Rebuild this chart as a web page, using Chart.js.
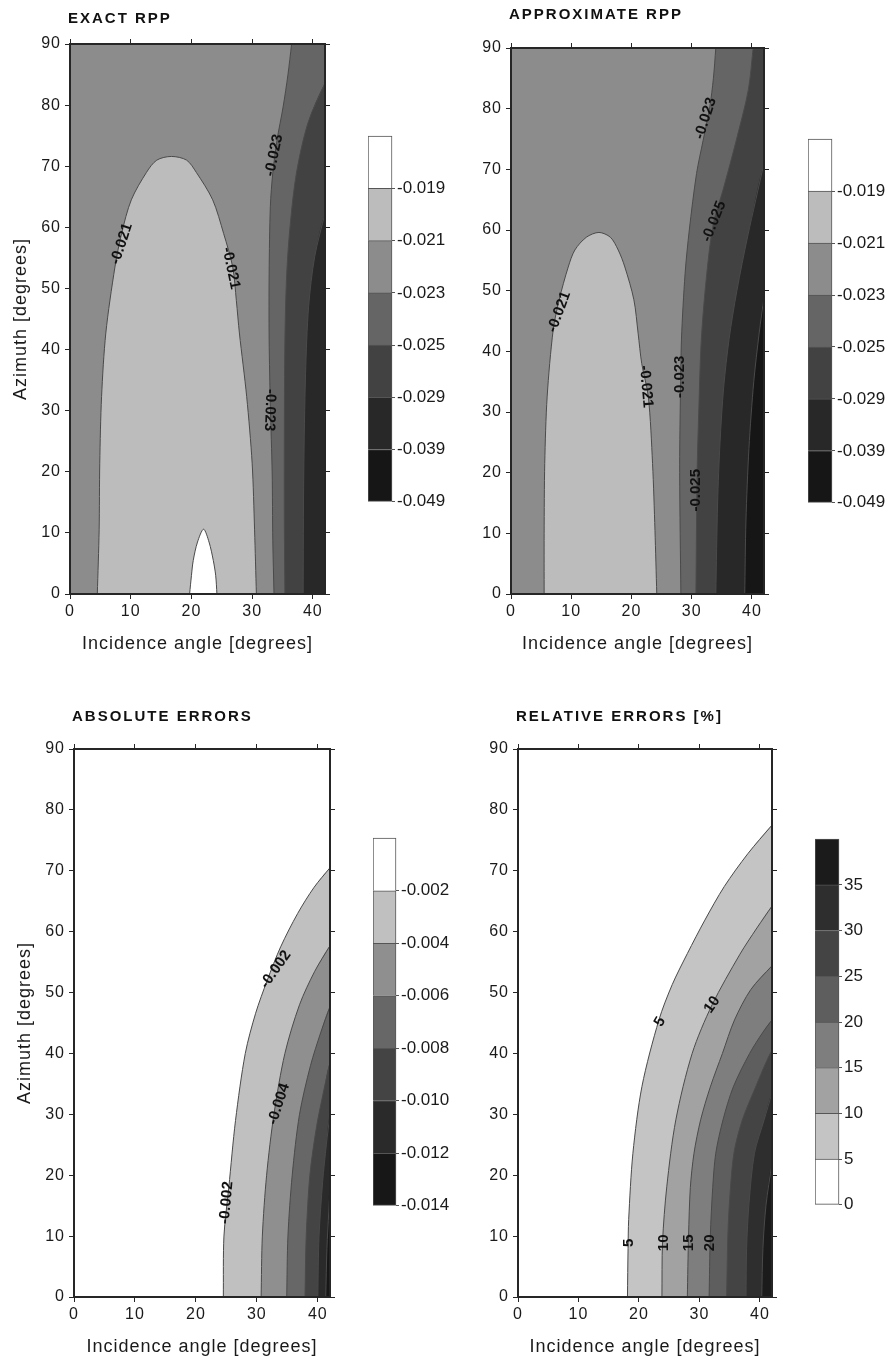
<!DOCTYPE html>
<html>
<head>
<meta charset="utf-8">
<title>Exact and approximate Rpp</title>
<script src="https://cdn.jsdelivr.net/npm/chart.js@4.4.1/dist/chart.umd.min.js"></script>
<style>
  html, body { margin: 0; padding: 0; background: #fff; overflow: hidden; }
  body { width: 889px; height: 1360px; position: relative; }
  canvas { position: absolute; display: block; }
</style>
</head>
<body>
<script>
const FONT = "'Liberation Sans', Arial, Helvetica, sans-serif";
const INK = '#1a1a1a';
const FRAME = '#262626';
const CONTOUR = '#4a4a4a';

// contour lines, [incidence angle, azimuth] in degrees
const exact019 = [[19.7, 0], [20.0, 3], [20.3, 5.5], [21.0, 8.5], [22.0, 10.6], [22.9, 8.5], [23.6, 5.5], [24.0, 3], [24.2, 0]];
const exact021 = [[4.5, 0], [4.8, 10.5], [4.9, 21.4], [5.2, 32.3], [5.9, 42.7], [7.4, 53.5], [8.5, 59], [10.1, 64.5], [12.6, 69], [14.3, 71], [16.7, 71.6], [19.2, 71], [20.8, 69], [23.5, 64.5], [25.3, 59], [26.8, 53.5], [27.4, 48], [27.9, 42.7], [29.1, 32.3], [30.0, 21.4], [30.4, 10.5], [30.7, 0]];
const exact023 = [[33.6, 0], [33.4, 8.8], [33.3, 19.8], [33.0, 30.7], [32.8, 41.6], [32.8, 52.5], [33.0, 63.4], [33.4, 68.9], [34.1, 74.3], [35.1, 79.7], [35.9, 85], [36.5, 90]];
const exact025 = [[35.4, 0], [35.3, 12], [35.3, 25.3], [35.4, 41.6], [35.7, 52.5], [36.3, 60.7], [37.3, 68.9], [39.2, 77.1], [42, 83.6]];
const exact029 = [[38.4, 0], [38.5, 19.8], [38.8, 36.1], [39.3, 47], [40.3, 55.2], [42, 62.3]];

const approx021 = [[5.5, 0], [5.5, 10], [5.6, 21.5], [6.0, 32.5], [7.0, 43.5], [8.0, 48.5], [9.5, 53.9], [10.6, 56.7], [12.5, 58.8], [14.6, 59.6], [16.5, 58.8], [17.8, 56.7], [18.9, 53.9], [20.4, 48.5], [21.1, 43], [21.7, 38], [22.8, 32.5], [23.5, 21.5], [23.9, 10.5], [24.2, 0]];
const approx023 = [[28.2, 0], [28.0, 20], [28.1, 31], [28.3, 42], [28.9, 52.8], [29.6, 60], [30.8, 69.3], [31.9, 74.8], [33.0, 80.3], [33.6, 85], [34.0, 90]];
const approx025 = [[30.7, 0], [30.9, 20], [31.2, 31], [31.6, 42], [32.5, 52.8], [33.6, 61.1], [35.2, 66.6], [37.4, 74.8], [39.4, 83.1], [40.2, 90]];
const approx029 = [[34.0, 0], [34.3, 15], [34.7, 25], [35.3, 34], [36.2, 42], [37.5, 50], [39.3, 59], [42, 71]];
const approx039 = [[38.8, 0], [39.0, 12], [39.5, 24], [40.3, 35], [41.2, 43], [42, 49]];

const abs002 = [[24.5, 0], [24.6, 10], [25.4, 18], [26.5, 29], [28.1, 40], [29.8, 46.6], [31.7, 52], [33.9, 57.5], [36.7, 63], [39.4, 67.3], [42, 70.5]];
const abs004 = [[30.7, 0], [30.9, 10], [31.6, 20], [32.8, 30], [34.6, 40], [37.0, 48], [39.5, 53.5], [42, 57.7]];
const abs006 = [[34.9, 0], [35.1, 10], [35.8, 20], [37.0, 30], [38.8, 38], [40.5, 43.5], [42, 47.7]];
const abs008 = [[37.9, 0], [38.1, 10], [38.7, 20], [39.8, 28], [41.0, 34], [42, 38.5]];
const abs010 = [[40.0, 0], [40.2, 10], [40.8, 19], [41.4, 25], [42, 30]];
const abs012 = [[41.3, 0], [41.5, 8], [41.8, 14], [42, 18]];

const rel05 = [[18.1, 0], [18.2, 8], [18.3, 12.7], [19.0, 23.6], [20.5, 34.6], [23.3, 45.5], [25.5, 51.3], [28.0, 56.4], [30.9, 61.9], [34.1, 67.4], [38.0, 72.8], [42, 77.5]];
const rel10 = [[23.8, 0], [23.9, 9], [24.6, 18.1], [26.1, 29.1], [28.8, 40], [32.1, 48], [36.7, 56.3], [39.5, 60.6], [42, 64.2]];
const rel15 = [[28.0, 0], [28.2, 10], [28.5, 18], [29.1, 23.6], [30.2, 29.1], [31.8, 34.5], [33.8, 40], [35.8, 45.5], [38.5, 50.5], [42, 54.4]];
const rel20 = [[31.6, 0], [31.8, 10], [32.2, 18], [32.7, 23.6], [33.9, 29.1], [35.6, 34.5], [38.3, 40], [40.5, 43.5], [42, 45.5]];
const rel25 = [[34.5, 0], [34.7, 10], [35.0, 16], [35.7, 23.6], [37.1, 29.1], [39.3, 34.5], [41, 38.5], [42, 40.5]];
const rel30 = [[37.7, 0], [37.8, 8], [38.2, 15.4], [39.1, 23.6], [40.7, 29.1], [42, 33.5]];
const rel35 = [[40.3, 0], [40.5, 8], [41.0, 15], [42, 22]];

// contour labels: text, incidence, azimuth, rotation in degrees
const exactTags = [['-0.021', 8.5, 57.3, -72], ['-0.021', 26.5, 53.3, 78], ['-0.023', 33.6, 71.8, -78], ['-0.023', 32.9, 30.1, 92]];
const approxTags = [['-0.021', 8.0, 46.5, -70], ['-0.021', 22.4, 34.2, 85], ['-0.023', 32.3, 78.4, -72], ['-0.025', 33.7, 61.4, -68], ['-0.023', 28.1, 35.8, -90], ['-0.025', 30.7, 17.1, -90]];
const absTags = [['-0.002', 33.1, 53.8, -55], ['-0.002', 25.0, 15.5, -85], ['-0.004', 33.6, 31.7, -72]];
const relTags = [['5', 23.5, 45.2, -60], ['10', 32.1, 48.0, -55], ['5', 18.3, 8.9, -90], ['10', 24.2, 8.9, -90], ['15', 28.3, 8.9, -90], ['20', 31.8, 8.9, -90]];

// colour bar levels, bottom to top
const rppLevels = [-0.049, -0.039, -0.029, -0.025, -0.023, -0.021, -0.019];
const absLevels = [-0.014, -0.012, -0.010, -0.008, -0.006, -0.004, -0.002];
const relLevels = [0, 5, 10, 15, 20, 25, 30, 35];

// grey shades per band, bottom to top of the colour bar
const rppShades = ['#161616', '#282828', '#424242', '#656565', '#8c8c8c', '#bcbcbc', '#ffffff'];
const absShades = ['#171717', '#2a2a2a', '#444444', '#676767', '#8f8f8f', '#c0c0c0', '#ffffff'];
const relShades = ['#ffffff', '#c4c4c4', '#a2a2a2', '#7e7e7e', '#5e5e5e', '#444444', '#2e2e2e', '#1b1b1b'];

const Y_AXIS_W = 60;
const X_AXIS_H = 63;
const EDGE = 6;
const PAD_TOP = 40;
const PAD_RIGHT = 20;

const panels = [
    {
        title: 'EXACT RPP', yTitle: true, titleDy: 25,
        plot: { left: 70, top: 44, right: 325, bottom: 594 },
        bar: { left: 368, top: 136, width: 24, height: 366 },
        base: 4, shades: rppShades, levels: rppLevels, digits: 3,
        steps: [[exact023, 3], [exact025, 2], [exact029, 1]],
        islands: [[exact021, 5], [exact019, 6]],
        tags: exactTags,
    },
    {
        title: 'APPROXIMATE RPP', yTitle: false, titleDy: 33.5,
        plot: { left: 511, top: 48, right: 764, bottom: 594 },
        bar: { left: 808, top: 139, width: 24, height: 364 },
        base: 4, shades: rppShades, levels: rppLevels, digits: 3,
        steps: [[approx023, 3], [approx025, 2], [approx029, 1], [approx039, 0]],
        islands: [[approx021, 5]],
        tags: approxTags,
    },
    {
        title: 'ABSOLUTE ERRORS', yTitle: true, titleDy: 32,
        plot: { left: 74, top: 749, right: 330, bottom: 1297 },
        bar: { left: 373, top: 838, width: 23, height: 368 },
        base: 6, shades: absShades, levels: absLevels, digits: 3,
        steps: [[abs002, 5], [abs004, 4], [abs006, 3], [abs008, 2], [abs010, 1], [abs012, 0]],
        islands: [],
        tags: absTags,
    },
    {
        title: 'RELATIVE ERRORS [%]', yTitle: false, titleDy: 32,
        plot: { left: 518, top: 749, right: 772, bottom: 1297 },
        bar: { left: 815, top: 839, width: 24, height: 366 },
        base: 0, shades: relShades, levels: relLevels, digits: 0,
        steps: [[rel05, 1], [rel10, 2], [rel15, 3], [rel20, 4], [rel25, 5], [rel30, 6], [rel35, 7]],
        islands: [],
        tags: relTags,
    },
];

Chart.defaults.font.family = FONT;
Chart.defaults.color = INK;

function toPoints(curve) {
    return curve.map(([x, y]) => ({ x, y }));
}

// region to the right of a contour, closed outside the plot so clipping trims it
function rightOf(curve) {
    const pts = toPoints(curve);
    const first = pts[0];
    const last = pts[pts.length - 1];
    const out = [{ x: first.x, y: -1 }, ...pts];
    if (last.y >= 90) {
        out.push({ x: last.x, y: 91 }, { x: 43, y: 91 });
    } else {
        out.push({ x: 43, y: last.y });
    }
    out.push({ x: 43, y: -1 });
    return out;
}

function island(curve) {
    const pts = toPoints(curve);
    return [{ x: pts[0].x, y: -1 }, ...pts, { x: pts[pts.length - 1].x, y: -1 }];
}

function addCanvas(left, top, width, height) {
    const canvas = document.createElement('canvas');
    canvas.width = width;
    canvas.height = height;
    canvas.style.left = `${left}px`;
    canvas.style.top = `${top}px`;
    canvas.style.width = `${width}px`;
    canvas.style.height = `${height}px`;
    document.body.appendChild(canvas);
    return canvas;
}

function decorPlugin(panel) {
    return {
        id: 'panelDecor',
        beforeDraw(chart) {
            chart.ctx.letterSpacing = '1px';
        },
        beforeDatasetsDraw(chart) {
            const { ctx, chartArea: a } = chart;
            ctx.save();
            ctx.fillStyle = panel.shades[panel.base];
            ctx.fillRect(a.left, a.top, a.width, a.height);
            ctx.restore();
        },
        afterDatasetsDraw(chart) {
            const { ctx, scales: { x, y } } = chart;
            ctx.save();
            ctx.letterSpacing = '0px';
            ctx.font = `bold 15px ${FONT}`;
            ctx.fillStyle = '#111';
            ctx.textAlign = 'center';
            ctx.textBaseline = 'middle';
            for (const [text, vx, vy, deg] of panel.tags) {
                ctx.save();
                ctx.translate(x.getPixelForValue(vx), y.getPixelForValue(vy));
                ctx.rotate(deg * Math.PI / 180);
                ctx.fillText(text, 0, 0);
                ctx.restore();
            }
            ctx.restore();
        },
        afterDraw(chart) {
            const { ctx, chartArea: a } = chart;
            ctx.save();
            ctx.letterSpacing = '2px';
            ctx.font = `bold 15px ${FONT}`;
            ctx.fillStyle = '#111';
            ctx.textAlign = 'left';
            ctx.textBaseline = 'middle';
            ctx.fillText(panel.title, a.left - 2, a.top - panel.titleDy);
            ctx.restore();
        },
    };
}

function edgeAxis(position, max) {
    const horizontal = position === 'top';
    return {
        type: 'linear',
        position,
        min: 0,
        max,
        z: 1,
        ticks: { display: false, stepSize: 10, includeBounds: false, z: 1 },
        grid: { drawOnChartArea: false, tickLength: 5, color: FRAME, lineWidth: 1, z: 1 },
        border: { color: FRAME, width: 2, z: 2 },
        afterFit(scale) {
            if (horizontal) scale.height = EDGE;
            else scale.width = EDGE;
        },
    };
}

function buildPanel(panel) {
    const { plot } = panel;
    const width = plot.right - plot.left + Y_AXIS_W + EDGE + PAD_RIGHT;
    const height = plot.bottom - plot.top + EDGE + PAD_TOP + X_AXIS_H;
    const canvas = addCanvas(plot.left - Y_AXIS_W, plot.top - EDGE - PAD_TOP, width, height);

    const layers = [];
    panel.steps.forEach(([curve, shade]) => layers.push({ data: rightOf(curve), shade }));
    panel.islands.forEach(([curve, shade]) => layers.push({ data: island(curve), shade }));
    const n = layers.length;

    const fills = layers.map((layer, i) => ({
        data: layer.data,
        fill: 'shape',
        backgroundColor: panel.shades[layer.shade],
        borderColor: 'rgba(0,0,0,0)',
        borderWidth: 0,
        order: 100 + n - i,
    }));

    const lines = [...panel.steps, ...panel.islands].map(([curve]) => ({
        data: toPoints(curve),
        fill: false,
        borderColor: CONTOUR,
        borderWidth: 1,
        order: 1,
    }));

    const tickFont = { size: 16, family: FONT };
    const titleFont = { size: 18, family: FONT };

    return new Chart(canvas, {
        type: 'line',
        data: { datasets: [...fills, ...lines] },
        options: {
            responsive: false,
            animation: false,
            devicePixelRatio: 1,
            events: [],
            layout: { padding: { top: PAD_TOP, right: PAD_RIGHT, left: 0, bottom: 0 } },
            elements: {
                point: { radius: 0, hitRadius: 0 },
                line: { tension: 0.3, capBezierPoints: false },
            },
            plugins: { legend: { display: false }, tooltip: { enabled: false } },
            scales: {
                x: {
                    type: 'linear',
                    position: 'bottom',
                    min: 0,
                    max: 42,
                    z: 1,
                    ticks: { stepSize: 10, includeBounds: false, maxRotation: 0, padding: 3, font: tickFont, color: INK, z: 1 },
                    grid: { drawOnChartArea: false, tickLength: 5, color: FRAME, lineWidth: 1, z: 1 },
                    border: { color: FRAME, width: 2, z: 2 },
                    title: { display: true, text: 'Incidence angle [degrees]', font: titleFont, color: INK, padding: { top: 0, bottom: 2 } },
                    afterFit(scale) { scale.height = X_AXIS_H; },
                },
                xTop: edgeAxis('top', 42),
                y: {
                    type: 'linear',
                    position: 'left',
                    min: 0,
                    max: 90,
                    z: 1,
                    ticks: { stepSize: 10, includeBounds: false, padding: 4, font: tickFont, color: INK, z: 1 },
                    grid: { drawOnChartArea: false, tickLength: 5, color: FRAME, lineWidth: 1, z: 1 },
                    border: { color: FRAME, width: 2, z: 2 },
                    title: { display: panel.yTitle, text: 'Azimuth [degrees]', font: titleFont, color: INK, padding: { top: 0, bottom: 0 } },
                    afterFit(scale) { scale.width = Y_AXIS_W; },
                },
                yRight: edgeAxis('right', 90),
            },
        },
        plugins: [decorPlugin(panel)],
    });
}

function buildColorbar(panel) {
    const { bar, shades, levels, digits } = panel;
    const pad = 12;
    const axisW = 70;
    const canvas = addCanvas(bar.left, bar.top - pad, bar.width + axisW, bar.height + 2 * pad);
    const bandSize = shades.map(() => 1);

    const datasets = shades.map((shade, i) => ({
        data: [bandSize[i]],
        backgroundColor: shade,
        borderColor: '#555555',
        borderWidth: { left: 1, right: 1, top: 1, bottom: i === 0 ? 1 : 0 },
        borderSkipped: false,
        barPercentage: 1,
        categoryPercentage: 1,
        clip: false,
    }));

    return new Chart(canvas, {
        type: 'bar',
        data: { labels: [''], datasets },
        options: {
            responsive: false,
            animation: false,
            devicePixelRatio: 1,
            events: [],
            layout: { padding: { top: pad, bottom: pad, left: 0, right: 0 } },
            plugins: { legend: { display: false }, tooltip: { enabled: false } },
            scales: {
                x: { stacked: true, display: false },
                y: {
                    stacked: true,
                    position: 'right',
                    min: 0,
                    max: shades.length,
                    ticks: {
                        stepSize: 1,
                        padding: 2,
                        font: { size: 17, family: FONT },
                        color: INK,
                        callback: (value) => (value < levels.length ? levels[value].toFixed(digits) : ''),
                    },
                    grid: {
                        drawOnChartArea: false,
                        tickLength: 3,
                        color: (ctx) => (ctx.tick && ctx.tick.value < levels.length ? '#555555' : 'rgba(0,0,0,0)'),
                    },
                    border: { display: false },
                    afterFit(scale) { scale.width = axisW; },
                },
            },
        },
    });
}

panels.forEach((panel) => {
    buildPanel(panel);
    buildColorbar(panel);
});
</script>
</body>
</html>
